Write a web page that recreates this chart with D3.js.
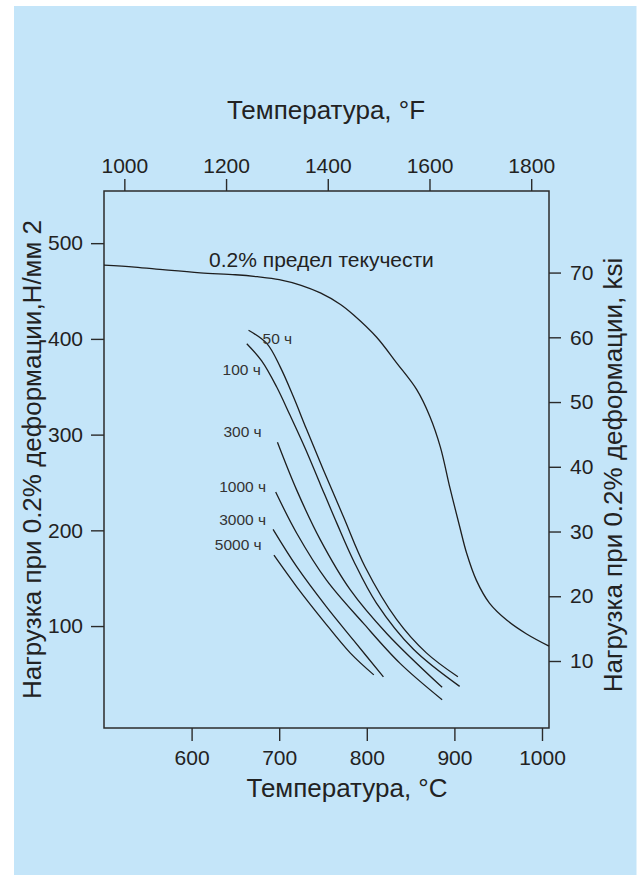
<!DOCTYPE html>
<html>
<head>
<meta charset="utf-8">
<script src="https://cdnjs.cloudflare.com/ajax/libs/d3/7.8.5/d3.min.js"></script>
<style>
  html, body { margin: 0; padding: 0; background: #fff; }
  svg { display: block; }
  text { font-family: "Liberation Sans", Arial, Helvetica, sans-serif; fill: #222; }
</style>
</head>
<body>
<svg id="chart" width="643" height="875"></svg>
<script>
// ---- data ----
// 0.2% yield strength, N/mm2 vs temperature, °C
const yieldTemps  = [500, 535, 570, 610, 650, 675, 700, 725, 747, 770, 785, 811, 834, 857, 872, 884, 895, 906, 914, 925, 940, 960, 982, 1008];
const yieldValues = [477, 475, 472, 469, 467, 465, 462, 456, 448, 436, 425, 402, 375, 347, 319, 287, 244, 204, 176, 148, 124, 106, 92, 79];

// stress for 0.2% creep strain after given hours
const creepNames = ["50 ч", "100 ч", "300 ч", "1000 ч", "3000 ч", "5000 ч"];
const creep50Temps    = [665, 686, 701, 716, 731, 750, 773, 798, 834, 868, 904];
const creep50Values   = [409, 395, 371, 340, 306, 264, 215, 162, 107, 72, 47];
const creep100Temps   = [663, 680, 697, 712, 730, 747, 766, 785, 811, 853, 906];
const creep100Values  = [395, 377, 350, 321, 285, 248, 207, 168, 124, 76, 37];
const creep300Temps   = [698, 720, 747, 781, 823, 886];
const creep300Values  = [292, 242, 190, 138, 92, 36];
const creep1000Temps  = [696, 720, 754, 796, 838, 886];
const creep1000Values = [240, 197, 148, 103, 61, 23];
const creep3000Temps  = [693, 720, 754, 785, 819];
const creep3000Values = [201, 162, 120, 85, 47];
const creep5000Temps  = [694, 720, 750, 781, 808];
const creep5000Values = [174, 141, 106, 72, 49];

// label anchors in data units [°C, N/mm2]
const creepLabelAt = [[681, 395], [679, 362], [680, 297], [685, 240], [685, 206], [680, 179]];
const yieldLabel = "0.2% предел текучести";
const yieldLabelAt = [620, 475];

const ticksC   = [600, 700, 800, 900, 1000];
const ticksF   = [1000, 1200, 1400, 1600, 1800];
const ticksN   = [100, 200, 300, 400, 500];
const ticksKsi = [10, 20, 30, 40, 50, 60, 70];

const titleTop    = "Температура, °F";
const titleBottom = "Температура, °C";
const titleLeft   = "Нагрузка при 0.2% деформации,Н/мм 2";
const titleRight  = "Нагрузка при 0.2% деформации, ksi";

// ---- layout ----
const H = 875;
const plot = { left: 104, right: 549, top: 191, bottom: 728 };
const ink = "#2b2b2b";

const svg = d3.select("#chart");

svg.append("rect")
  .attr("x", 14).attr("y", 6)
  .attr("width", 636.5 - 14).attr("height", H - 6)
  .attr("fill", "#c4e5f9");

const x  = d3.scaleLinear().domain([500, 1008]).range([plot.left, plot.right]);
const xF = d3.scaleLinear().domain([960, 1835]).range([plot.left, plot.right]);
const y  = d3.scaleLinear().domain([-6.5, 554.5]).range([plot.bottom, plot.top]);
const yK = d3.scaleLinear().domain([-0.35, 82.6]).range([plot.bottom, plot.top]);

function styleAxis(g) {
  g.select(".domain").remove();
  g.selectAll(".tick line").attr("stroke", ink).attr("stroke-width", 1.4);
  g.selectAll(".tick text")
    .attr("font-size", 21)
    .attr("font-family", "Liberation Sans, Arial, sans-serif")
    .attr("fill", "#222");
  g.attr("font-size", null).attr("font-family", null);
}

svg.append("g")
  .attr("transform", `translate(0,${plot.bottom})`)
  .call(d3.axisBottom(x).tickValues(ticksC).tickSize(13).tickPadding(9).tickFormat(d3.format("d")))
  .call(styleAxis);

svg.append("g")
  .attr("transform", `translate(0,${plot.top})`)
  .call(d3.axisTop(xF).tickValues(ticksF).tickSize(12).tickPadding(6).tickFormat(d3.format("d")))
  .call(styleAxis);

svg.append("g")
  .attr("transform", `translate(${plot.left},0)`)
  .call(d3.axisLeft(y).tickValues(ticksN).tickSize(13).tickPadding(8).tickFormat(d3.format("d")))
  .call(styleAxis);

svg.append("g")
  .attr("transform", `translate(${plot.right},0)`)
  .call(d3.axisRight(yK).tickValues(ticksKsi).tickSize(12).tickPadding(9).tickFormat(d3.format("d")))
  .call(styleAxis);

// frame
svg.append("rect")
  .attr("x", plot.left).attr("y", plot.top)
  .attr("width", plot.right - plot.left).attr("height", plot.bottom - plot.top)
  .attr("fill", "none").attr("stroke", ink).attr("stroke-width", 1.5);

// curves
const line = d3.line()
  .x(d => x(d[0]))
  .y(d => y(d[1]))
  .curve(d3.curveCatmullRom.alpha(0.5));

const zip = (a, b) => a.map((v, i) => [v, b[i]]);

svg.append("path")
  .datum(zip(yieldTemps, yieldValues))
  .attr("d", line)
  .attr("fill", "none").attr("stroke", "#1e1e1e").attr("stroke-width", 1.3);

const creepSeries = [
  zip(creep50Temps, creep50Values),
  zip(creep100Temps, creep100Values),
  zip(creep300Temps, creep300Values),
  zip(creep1000Temps, creep1000Values),
  zip(creep3000Temps, creep3000Values),
  zip(creep5000Temps, creep5000Values)
];

svg.selectAll("path.creep")
  .data(creepSeries)
  .join("path")
  .attr("class", "creep")
  .attr("d", line)
  .attr("fill", "none").attr("stroke", "#1e1e1e").attr("stroke-width", 1.3);

svg.selectAll("text.creep-label")
  .data(creepNames)
  .join("text")
  .attr("class", "creep-label")
  .attr("x", (d, i) => x(creepLabelAt[i][0]))
  .attr("y", (d, i) => y(creepLabelAt[i][1]))
  .attr("text-anchor", (d, i) => i === 0 ? "start" : "end")
  .attr("font-size", 15.5)
  .style("fill", "#333")
  .text(d => d);

svg.append("text")
  .attr("x", x(yieldLabelAt[0]))
  .attr("y", y(yieldLabelAt[1]))
  .attr("font-size", 21)
  .text(yieldLabel);

// axis titles
svg.append("text")
  .attr("x", 326).attr("y", 119)
  .attr("text-anchor", "middle")
  .attr("font-size", 26)
  .text(titleTop);

svg.append("text")
  .attr("x", 347).attr("y", 797)
  .attr("text-anchor", "middle")
  .attr("font-size", 26)
  .text(titleBottom);

svg.append("text")
  .attr("transform", "translate(41,459.5) rotate(-90)")
  .attr("text-anchor", "middle")
  .attr("font-size", 26)
  .text(titleLeft);

svg.append("text")
  .attr("transform", "translate(622,475) rotate(-90)")
  .attr("text-anchor", "middle")
  .attr("font-size", 26)
  .text(titleRight);
</script>
</body>
</html>
